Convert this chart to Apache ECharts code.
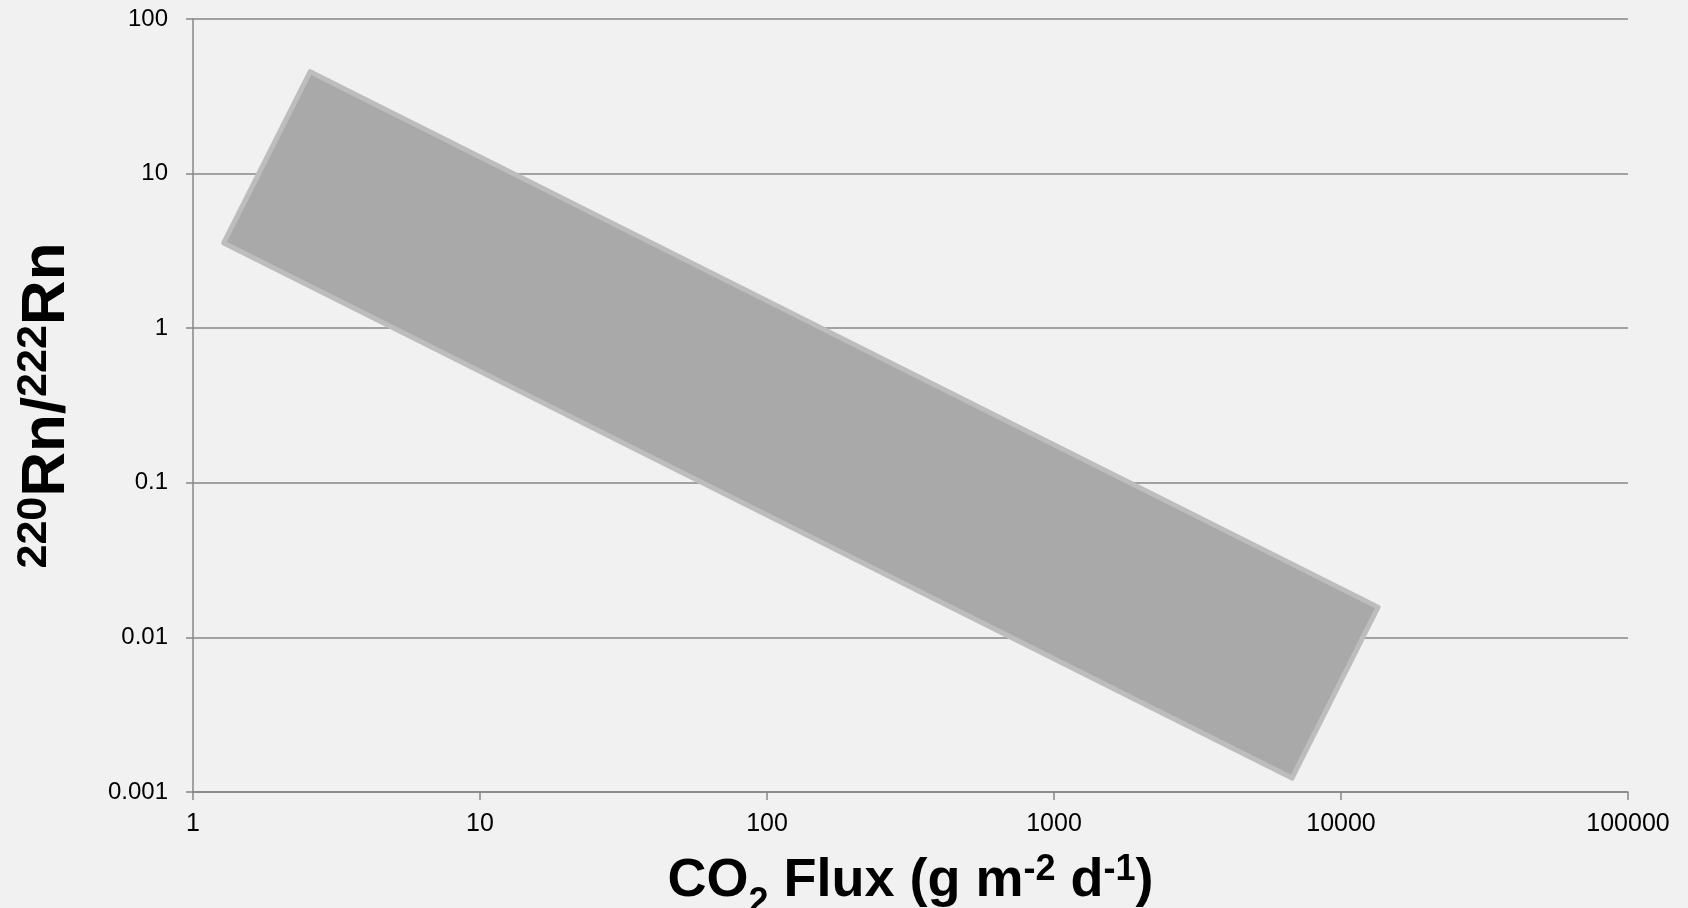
<!DOCTYPE html>
<html>
<head>
<meta charset="utf-8">
<script src="https://cdn.jsdelivr.net/npm/echarts@6/dist/echarts.min.js"></script>
<style>
html,body{margin:0;padding:0;background:#f1f1f1;}
#chart{width:1688px;height:908px;}
</style>
</head>
<body>
<div id="chart"></div>
<script>
// Polygon corners (CO2 flux, 220Rn/222Rn), clockwise from left corner
const polyX = [1.28, 2.56, 13460, 6750];
const polyY = [3.56, 45.6, 0.0157, 0.00123];
// Tick labels by decade exponent
const xTickLabels = {0:'1', 1:'10', 2:'100', 3:'1000', 4:'10000', 5:'100000'};
const yTickLabels = {'-3':'0.001', '-2':'0.01', '-1':'0.1', 0:'1', 1:'10', 2:'100'};

const chart = echarts.init(document.getElementById('chart'));
const axisColor = '#878787';
const fontFam = '"Liberation Sans", Arial, sans-serif';

chart.setOption({
  backgroundColor: '#f1f1f1',
  animation: false,
  grid: {left: 193, right: 60, top: 19, bottom: 116, containLabel: false, outerBoundsMode: 'none'},
  xAxis: {
    type: 'log', logBase: 10, min: 1, max: 100000,
    axisLine: {show: true, lineStyle: {color: axisColor, width: 1.5}},
    axisTick: {show: true, length: 8, lineStyle: {color: axisColor, width: 1.5}},
    splitLine: {show: false},
    minorTick: {show: false},
    axisLabel: {
      margin: 20, color: '#000', fontSize: 25, fontFamily: fontFam,
      formatter: v => xTickLabels[Math.round(Math.log10(v))]
    },
    name: '{m|CO}{sub|2}{m| Flux (g m}{sup|-2}{m| d}{sup|-1}{m|)}',
    nameLocation: 'middle',
    nameGap: 56,
    nameTextStyle: {
      rich: {
        m: {fontSize: 54, fontWeight: 'bold', color: '#000', fontFamily: fontFam, lineHeight: 60, verticalAlign: 'bottom'},
        sub: {fontSize: 36, fontWeight: 'bold', color: '#000', fontFamily: fontFam, lineHeight: 60, verticalAlign: 'bottom', padding: [0,0,-13,0]},
        sup: {fontSize: 36, fontWeight: 'bold', color: '#000', fontFamily: fontFam, lineHeight: 60, verticalAlign: 'bottom', padding: [0,0,20,0]}
      }
    }
  },
  yAxis: {
    type: 'log', logBase: 10, min: 0.001, max: 100,
    axisLine: {show: true, lineStyle: {color: axisColor, width: 1.5}},
    axisTick: {show: true, length: 7, lineStyle: {color: axisColor, width: 1.5}},
    splitLine: {show: true, lineStyle: {color: axisColor, width: 1.5}},
    minorTick: {show: false},
    axisLabel: {
      margin: 25, color: '#000', fontSize: 24, fontFamily: fontFam,
      formatter: v => yTickLabels[Math.round(Math.log10(v))]
    },
    name: '{sup|220}{m|Rn/}{sup|222}{m|Rn}',
    nameLocation: 'middle',
    nameRotate: 90,
    nameGap: 115,
    nameTextStyle: {
      rich: {
        m: {fontSize: 62, fontWeight: 'bold', color: '#000', fontFamily: fontFam, lineHeight: 70, verticalAlign: 'bottom'},
        sup: {fontSize: 43, fontWeight: 'bold', color: '#000', fontFamily: fontFam, lineHeight: 70, verticalAlign: 'bottom', padding: [0,0,22,0]}
      }
    }
  },
  series: [{
    type: 'custom',
    coordinateSystem: 'cartesian2d',
    data: polyX.map((x, i) => [x, polyY[i]]),
    encode: {x: 0, y: 1},
    renderItem: function (params, api) {
      if (params.dataIndex !== 0) return null;
      const pts = polyX.map((x, i) => api.coord([x, polyY[i]]));
      return {
        type: 'polygon',
        shape: {points: pts},
        style: {fill: '#a9a9a9', stroke: '#bdbdbd', lineWidth: 5, lineJoin: 'round'}
      };
    }
  }]
});
</script>
</body>
</html>
